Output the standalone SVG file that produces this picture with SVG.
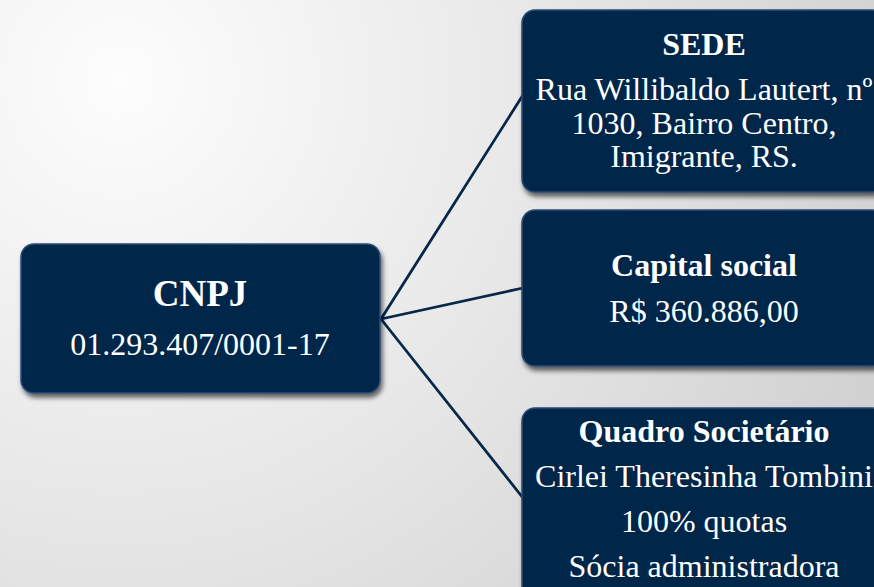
<svg xmlns="http://www.w3.org/2000/svg" width="874" height="587" viewBox="0 0 874 587">
  <defs>
    <radialGradient id="bg" cx="120" cy="80" r="900" gradientUnits="userSpaceOnUse">
      <stop offset="0" stop-color="#fdfdfd"/>
      <stop offset="0.5" stop-color="#e6e6e6"/>
      <stop offset="1" stop-color="#cccccc"/>
    </radialGradient>
    <filter id="shadow" x="-10%" y="-10%" width="125%" height="130%">
      <feGaussianBlur in="SourceAlpha" stdDeviation="2.5"/>
      <feOffset dx="2" dy="4" result="b"/>
      <feComponentTransfer><feFuncA type="linear" slope="0.6"/></feComponentTransfer>
      <feMerge><feMergeNode/><feMergeNode in="SourceGraphic"/></feMerge>
    </filter>
    <style>
      .box { fill: #06264a; stroke: #2a4d78; stroke-width: 1.5; filter: url(#shadow); }
      .t { font-family: "Liberation Serif", "Times New Roman", serif; fill: #ffffff; text-anchor: middle; font-size: 32px; }
      .b { font-weight: bold; }
      .conn { stroke: #06264a; stroke-width: 2.8; fill: none; stroke-linecap: round; }
    </style>
  </defs>
  <rect width="874" height="587" fill="url(#bg)"/>

  <g id="connectors">
    <line class="conn" x1="381" y1="319" x2="523" y2="95"/>
    <line class="conn" x1="381" y1="319" x2="523" y2="288"/>
    <line class="conn" x1="381" y1="319" x2="523" y2="498"/>
  </g>

  <g id="node-cnpj">
    <rect class="box" x="21" y="244" width="359" height="149" rx="13"/>
    <text class="t b" x="200" y="306" style="font-size:37px">CNPJ</text>
    <text class="t" x="200" y="355" style="font-size:32px">01.293.407/0001-17</text>
  </g>

  <g id="node-sede">
    <rect class="box" x="522" y="10" width="364" height="182" rx="13"/>
    <text class="t b" x="704" y="55">SEDE</text>
    <text class="t" x="704" y="100">Rua Willibaldo Lautert, nº</text>
    <text class="t" x="704" y="134">1030, Bairro Centro,</text>
    <text class="t" x="704" y="167">Imigrante, RS.</text>
  </g>

  <g id="node-capital">
    <rect class="box" x="522" y="210" width="364" height="156" rx="13"/>
    <text class="t b" x="704" y="276">Capital social</text>
    <text class="t" x="704" y="322">R$ 360.886,00</text>
  </g>

  <g id="node-quadro">
    <rect class="box" x="522" y="408" width="364" height="200" rx="13"/>
    <text class="t b" x="704" y="442">Quadro Societário</text>
    <text class="t" x="704" y="487">Cirlei Theresinha Tombini</text>
    <text class="t" x="704" y="532">100% quotas</text>
    <text class="t" x="704" y="577">Sócia administradora</text>
  </g>
</svg>
